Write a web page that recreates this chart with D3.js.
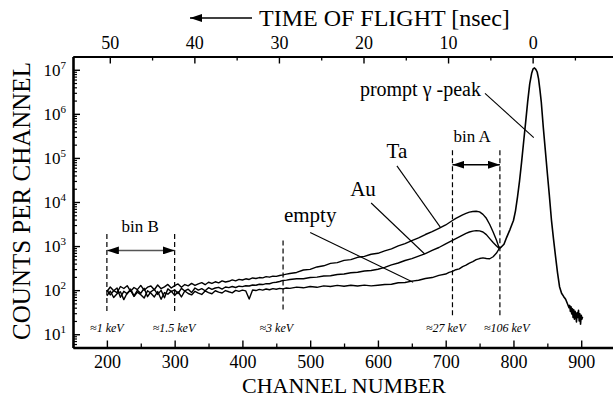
<!DOCTYPE html>
<html>
<head>
<meta charset="utf-8">
<script src="https://cdn.jsdelivr.net/npm/d3@7"></script>
<style>
  html, body { margin: 0; padding: 0; background: #fff; }
  svg { display: block; font-family: "Liberation Serif", "Times New Roman", serif; }
</style>
</head>
<body>
<svg id="chart" width="613" height="403"></svg>
<script>
// ---- spectrum data -------------------------------------------------------
// channel grid shared by the three target spectra (up to where they merge)
const channels = [
  200,205,210,215,220,225,230,235,240,245,
  250,255,260,265,270,275,280,285,290,295,
  300,305,310,315,320,325,330,335,340,345,
  350,355,360,365,370,375,380,385,390,395,
  400,405,410,415,420,425,430,435,440,445,
  450,455,460,465,470,
  480,490,500,510,520,530,540,550,560,570,
  580,590,600,610,620,630,640,650,660,670,
  680,690,700,
  705,710,715,720,725,730,735,740,745,750,
  755,760,765,770,775,779
];
const countsTa = [
  92,118,97,88,121,109,126,94,115,103,
  128,99,117,124,102,131,108,119,135,112,
  127,138,116,134,125,142,128,139,148,133,
  151,142,155,146,162,153,159,171,163,176,
  170,181,175,189,184,193,190,203,197,208,
  205,215,222,231,238,
  252,287,296,336,357,404,421,474,494,556,
  583,652,686,781,864,1006,1140,1325,1540,1830,
  2125,2525,3010,
  3388,3802,4266,4677,5129,5495,5888,6095,6166,5957,
  5248,4266,3090,2089,1349,891
];
const countsAu = [
  101,78,97,112,69,94,83,106,74,99,
  85,110,71,92,104,80,99,67,107,93,
  102,84,110,96,105,88,112,100,108,97,
  114,104,112,116,106,118,114,121,115,123,
  120,126,124,131,129,136,134,141,140,148,
  151,157,166,169,175,
  181,182,194,198,209,212,227,232,248,254,
  272,279,298,328,375,413,471,521,593,672,
  798,928,1127,
  1230,1349,1479,1622,1778,1950,2089,2188,2239,2213,
  2089,1820,1479,1202,1000,881
];
const countsEmpty = [
  74,95,68,83,92,61,86,99,72,90,
  79,66,97,85,70,93,62,88,81,95,
  76,92,70,96,84,78,94,86,80,96,
  88,83,97,90,86,98,92,87,99,94,
  100,96,63,101,98,104,100,106,102,108,
  105,110,107,112,110,
  117,113,121,116,125,121,128,123,129,124,
  130,125,129,134,136,147,149,160,168,184,
  193,216,232,
  254,266,291,305,342,368,410,443,494,521,
  540,522,516,572,695,881
];
// common prompt gamma peak and its tail
const peakChannels = [
  779,782,786,790,795,800,803,806,809,812,815,818,821,824,827,
  829,831,833,835,837,839,841,844,847,850,853,856,859,862,865,
  868,871,874,877,880,882,883,884,885,886,887,888,889,890,891,
  892,893,894,895,896,897,898,899,900,901,902
];
const peakCounts = [
  881,950,1100,1580,2400,3800,6300,13000,30000,80000,230000,650000,1900000,4800000,8500000,
  10500000,11000000,10200000,8900000,6300000,3600000,1900000,500000,150000,45000,14000,4000,1500,600,250,
  120,85,72,62,48,40,45,33,42,29,38,24,36,22,33,
  27,19,31,24,35,20,29,17,27,22,25
];

// ---- axes ----------------------------------------------------------------
const channelDomain = [150, 950];
const countDomain = [5, 2e7];
const channelTicks = [200, 300, 400, 500, 600, 700, 800, 900];
const channelMinorTicks = [150, 250, 350, 450, 550, 650, 750, 850];
const tofTicks = [0, 10, 20, 30, 40, 50];
const tofMinorTicks = [-5, 5, 15, 25, 35, 45];
const countExponents = [1, 2, 3, 4, 5, 6, 7];
const tofZeroChannel = 828.3;   // channel of t = 0 (prompt peak)
const channelsPerNs = 12.48;

// ---- annotations ---------------------------------------------------------
const markerChannels = [200, 300, 460, 710, 780];
const markerTop = [1890, 1890, 1334, 150000, 150000];
const markerBottom = [31, 31, 31, 23, 23];
const energyLabels = ["\u22481 keV", "\u22481.5 keV", "\u22483 keV", "\u224827 keV", "\u2248106 keV"];
const energyLabelChannels = [200, 299, 450, 700, 790];
const energyLabelCount = 11.4;

const bins = [
  { name: "bin B", from: 200, to: 300, arrowCount: 794, labelChannel: 249, labelCount: 2040 },
  { name: "bin A", from: 710, to: 780, arrowCount: 70000, labelChannel: 739, labelCount: 230000 }
];
const curveLabels = [
  { text: "Ta", channel: 628, count: 98000, anchor: "middle", size: 21,
    pointer: [[628, 66000], [692, 2700]] },
  { text: "Au", channel: 578, count: 14000, anchor: "middle", size: 21,
    pointer: [[590, 9500], [669, 661]] },
  { text: "empty", channel: 500, count: 3470, anchor: "middle", size: 21,
    pointer: [[500, 2040], [652, 151]] },
  { text: "prompt \u03b3 -peak", channel: 752, count: 2600000, anchor: "end", size: 20,
    pointer: [[758, 2900000], [830, 290000]] }
];

// ---- scales ----------------------------------------------------------------
const svg = d3.select("#chart");
const x = d3.scaleLinear().domain(channelDomain).range([73, 615.1]);
const y = d3.scaleLog().domain(countDomain).range([347.5, 56.5]);
const tof = d3.scaleLinear()
  .domain(channelDomain.map(c => (tofZeroChannel - c) / channelsPerNs))
  .range(x.range());

const [yBottom, yTop] = y.range();

// ---- defs: arrowheads ----------------------------------------------------
const defs = svg.append("defs");
defs.append("marker")
  .attr("id", "head").attr("viewBox", "0 0 12 8")
  .attr("refX", 12).attr("refY", 4)
  .attr("markerWidth", 12).attr("markerHeight", 8)
  .attr("markerUnits", "userSpaceOnUse")
  .attr("orient", "auto-start-reverse")
  .append("path").attr("d", "M0,0 L12,4 L0,8 Z").attr("fill", "#000");

// ---- curves ------------------------------------------------------------------
const line = d3.line().x(d => x(d[0])).y(d => y(d[1]));
const plot = svg.append("g");
[countsTa, countsAu, countsEmpty].forEach(series => {
  plot.append("path")
    .datum(channels.map((c, i) => [c, series[i]]))
    .attr("d", line)
    .attr("fill", "none").attr("stroke", "#000")
    .attr("stroke-width", 1.4).attr("stroke-linejoin", "round");
});
plot.append("path")
  .datum(peakChannels.map((c, i) => [c, peakCounts[i]]))
  .attr("d", line)
  .attr("fill", "none").attr("stroke", "#000")
  .attr("stroke-width", 1.6).attr("stroke-linejoin", "round");

// ---- marker lines and energy labels ----------------------------------------
const ann = svg.append("g");
markerChannels.forEach((c, i) => {
  ann.append("line")
    .attr("x1", x(c)).attr("x2", x(c))
    .attr("y1", y(markerTop[i])).attr("y2", y(markerBottom[i]))
    .attr("stroke", "#000").attr("stroke-width", 1.2)
    .attr("stroke-dasharray", "5,3");
  ann.append("text")
    .attr("x", x(energyLabelChannels[i])).attr("y", y(energyLabelCount))
    .attr("text-anchor", "middle")
    .attr("font-size", 12).attr("font-style", "italic")
    .text(energyLabels[i]);
});

// ---- bins ---------------------------------------------------------------------
bins.forEach(b => {
  ann.append("line")
    .attr("x1", x(b.from)).attr("x2", x(b.to))
    .attr("y1", y(b.arrowCount)).attr("y2", y(b.arrowCount))
    .attr("stroke", b.name === "bin B" ? "#555" : "#000").attr("stroke-width", 1.6)
    .attr("marker-start", "url(#head)").attr("marker-end", "url(#head)");
  ann.append("text")
    .attr("x", x(b.labelChannel)).attr("y", y(b.labelCount))
    .attr("text-anchor", "middle").attr("font-size", 17)
    .text(b.name);
});

// ---- curve labels with pointers ------------------------------------------------
curveLabels.forEach(l => {
  ann.append("text")
    .attr("x", x(l.channel)).attr("y", y(l.count))
    .attr("text-anchor", l.anchor).attr("font-size", l.size)
    .text(l.text);
  ann.append("line")
    .attr("x1", x(l.pointer[0][0])).attr("y1", y(l.pointer[0][1]))
    .attr("x2", x(l.pointer[1][0])).attr("y2", y(l.pointer[1][1]))
    .attr("stroke", "#000").attr("stroke-width", 1.1);
});

// ---- axes ------------------------------------------------------------------------
function styleAxis(g, width) {
  g.select(".domain").attr("stroke-width", width);
  g.selectAll(".tick line").attr("stroke-width", 1.4);
  g.attr("font-family", null).attr("font-size", null);
}

// bottom: channel number
const gBottom = svg.append("g").attr("transform", `translate(0,${yBottom})`);
gBottom.call(d3.axisBottom(x).tickValues(channelTicks).tickSize(-7)
  .tickSizeOuter(0).tickPadding(8).tickFormat(d3.format("d")));
gBottom.call(g => styleAxis(g, 2.6));
gBottom.selectAll(".tick text").attr("font-size", 18);
gBottom.append("g").call(d3.axisBottom(x).tickValues(channelMinorTicks)
  .tickSize(-4).tickSizeOuter(0).tickFormat(""))
  .call(g => { g.select(".domain").remove(); g.selectAll("line").attr("stroke-width", 1.3); });

// top: time of flight
const gTop = svg.append("g").attr("transform", `translate(0,${yTop})`);
gTop.call(d3.axisTop(tof).tickValues(tofTicks).tickSize(-7)
  .tickSizeOuter(0).tickPadding(8).tickFormat(d3.format("d")));
gTop.call(g => styleAxis(g, 2.2));
gTop.selectAll(".tick text").attr("font-size", 18);
gTop.append("g").call(d3.axisTop(tof).tickValues(tofMinorTicks)
  .tickSize(-4).tickSizeOuter(0).tickFormat(""))
  .call(g => { g.select(".domain").remove(); g.selectAll("line").attr("stroke-width", 1.3); });

// left: counts per channel (log)
const majorCounts = countExponents.map(e => Math.pow(10, e));
const minorCounts = [];
for (let e = 0; e <= 7; e++) {
  for (let m = 2; m <= 9; m++) {
    const v = m * Math.pow(10, e);
    if (v >= countDomain[0] && v <= countDomain[1]) minorCounts.push(v);
  }
}
const gLeft = svg.append("g").attr("transform", `translate(${x.range()[0]},0)`);
gLeft.call(d3.axisLeft(y).tickValues(majorCounts).tickSize(-7)
  .tickSizeOuter(0).tickFormat(""));
gLeft.call(g => styleAxis(g, 2.6));
gLeft.append("g").call(d3.axisLeft(y).tickValues(minorCounts)
  .tickSize(-4).tickSizeOuter(0).tickFormat(""))
  .call(g => { g.select(".domain").remove(); g.selectAll("line").attr("stroke-width", 1.2); });

const yLabels = svg.append("g").attr("text-anchor", "end");
countExponents.forEach(e => {
  const t = yLabels.append("text")
    .attr("x", x.range()[0] - 7).attr("y", y(Math.pow(10, e)) + 6)
    .attr("font-size", 17);
  t.append("tspan").text("10");
  t.append("tspan").attr("dy", -7).attr("font-size", 11).text(e);
});

// ---- axis titles ---------------------------------------------------------------
svg.append("text")
  .attr("x", 344).attr("y", 393)
  .attr("text-anchor", "middle").attr("font-size", 22)
  .text("CHANNEL NUMBER");

svg.append("text")
  .attr("transform", "translate(30,201) rotate(-90)")
  .attr("text-anchor", "middle").attr("font-size", 25)
  .text("COUNTS PER CHANNEL");

const title = svg.append("g");
title.append("text")
  .attr("x", 259).attr("y", 26)
  .attr("font-size", 24)
  .text("TIME OF FLIGHT [nsec]");
title.append("line")
  .attr("x1", 252).attr("x2", 190).attr("y1", 18).attr("y2", 18)
  .attr("stroke", "#000").attr("stroke-width", 1.6)
  .attr("marker-end", "url(#head)");
</script>
</body>
</html>
